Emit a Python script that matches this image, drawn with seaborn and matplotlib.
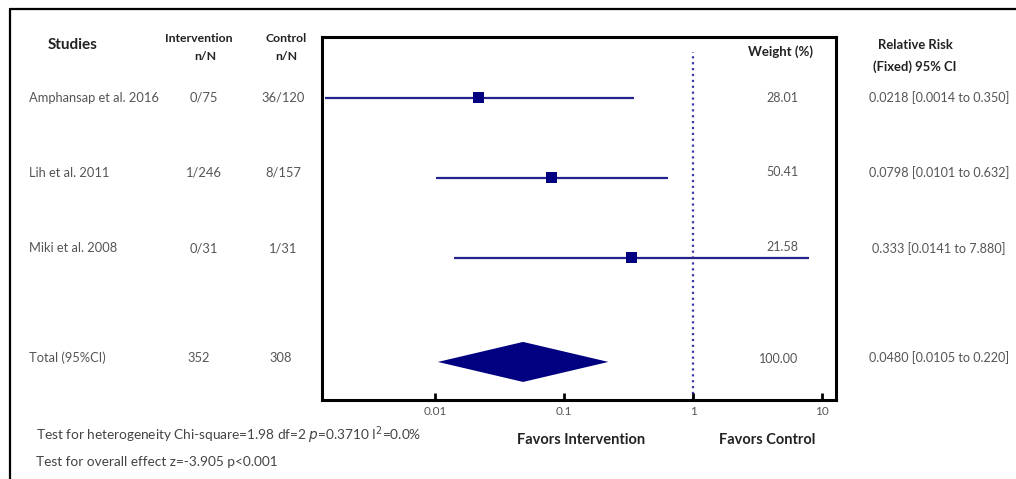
import matplotlib
matplotlib.use('Agg')
import matplotlib.pyplot as plt
import matplotlib.transforms as mtransforms
from matplotlib.lines import Line2D
import seaborn as sns
import numpy as np
import pandas as pd

# Data
studies = ["Amphansap et al. 2016", "Lih et al. 2011", "Miki et al. 2008"]
intervention = ["0/75", "1/246", "0/31"]
control = ["36/120", "8/157", "1/31"]
rr = [0.0218, 0.0798, 0.333]
ci_low = [0.0014, 0.0101, 0.0141]
ci_high = [0.350, 0.632, 7.880]
weights = ["28.01", "50.41", "21.58"]
rr_text = ["0.0218 [0.0014 to 0.350]", "0.0798 [0.0101 to 0.632]",
           "0.333 [0.0141 to 7.880]"]

total_label = "Total (95%CI)"
total_n = ["352", "308"]
total_rr = 0.0480
total_low = 0.0105
total_high = 0.220
total_weight = "100.00"
total_text = "0.0480 [0.0105 to 0.220]"

xticks = [0.01, 0.1, 1, 10]
xtick_labels = ["0.01", "0.1", "1", "10"]

# row positions (layout): marks and table text sit slightly apart
row_y = [0, 1, 2]
total_y = 3.3
text_y = [0, 0.94, 1.88, 3.25]
weight_y = [0, 0.925, 1.87, 3.26]

sns.set_style("ticks")
plt.rcParams['font.family'] = ['Lato', 'DejaVu Sans']

navy = '#000080'
line_col = '#24248c'
grey = '#555555'
dark = '#222222'

fig = plt.figure(figsize=(10.16, 4.79), dpi=100)
ax = fig.add_axes([0.317, 0.165, 0.506, 0.758])

df = pd.DataFrame({'study': studies, 'rr': rr, 'lo': ci_low, 'hi': ci_high, 'y': row_y})

# CI lines + point estimates
ax.hlines(df['y'], df['lo'], df['hi'], color=line_col, linewidth=1.6, zorder=2)
sns.scatterplot(data=df, x='rr', y='y', marker='s', s=65, color=navy,
                edgecolor='none', ax=ax, zorder=3, legend=False)

# pooled diamond
dh = 0.25
ax.fill([total_low, total_rr, total_high, total_rr],
        [total_y, total_y - dh, total_y, total_y + dh],
        color=navy, linewidth=0, zorder=3)

ax.set_xscale('log')
ax.set_xlim(0.00133, 12.8)
ax.set_ylim(3.775, -0.76)
ax.axvline(1, ymin=0, ymax=(3.775 + 0.575) / (3.775 + 0.76), color='#3a3aa8',
           linestyle=':', linewidth=1.6, zorder=1)

ax.set_xticks(xticks)
ax.set_xticklabels(xtick_labels)
ax.minorticks_off()
ax.set_yticks([])
ax.set_xlabel('')
ax.set_ylabel('')
ax.set_axisbelow(False)
ax.tick_params(axis='x', which='major', bottom=True, top=False, direction='in',
               length=5, width=2, color='black', labelcolor=grey,
               labelsize=8.5, pad=4)
for sp in ax.spines.values():
    sp.set_linewidth(2.2)
    sp.set_color('black')
    sp.set_visible(True)

trans = mtransforms.blended_transform_factory(fig.transFigure, ax.transData)

# Weight column inside the plot
ax.text(781 / 1016, -0.57, "Weight (%)", transform=trans,
        ha='center', va='center', fontsize=9.5, fontweight='bold', color=dark)
for y, w in zip(weight_y, weights + [total_weight]):
    ax.text(798 / 1016, y, w, transform=trans, ha='right', va='center',
            fontsize=9, color=grey)

# Left table
fig.text(73 / 1016, 1 - 45 / 479, "Studies", ha='center', va='center',
         fontsize=11, fontweight='bold', color=dark)
fig.text(199 / 1016, 1 - 39 / 479, "Intervention", ha='center', va='center',
         fontsize=8.8, fontweight='bold', color=dark)
fig.text(205 / 1016, 1 - 56 / 479, "n/N", ha='center', va='center',
         fontsize=8.8, fontweight='bold', color=dark)
fig.text(286 / 1016, 1 - 39 / 479, "Control", ha='center', va='center',
         fontsize=8.8, fontweight='bold', color=dark)
fig.text(286 / 1016, 1 - 56 / 479, "n/N", ha='center', va='center',
         fontsize=8.8, fontweight='bold', color=dark)

for y, name, a, b in zip(text_y, studies, intervention, control):
    fig.text(29 / 1016, y, name, transform=trans, ha='left', va='center',
             fontsize=9.3, color=grey)
    fig.text(204 / 1016, y, a, transform=trans, ha='center', va='center',
             fontsize=9.3, color=grey)
    fig.text(283 / 1016, y, b, transform=trans, ha='center', va='center',
             fontsize=9.3, color=grey)

fig.text(29 / 1016, text_y[3], total_label, transform=trans, ha='left',
         va='center', fontsize=9.3, color=grey)
fig.text(199 / 1016, text_y[3], total_n[0], transform=trans, ha='center',
         va='center', fontsize=9.3, color=grey)
fig.text(281 / 1016, text_y[3], total_n[1], transform=trans, ha='center',
         va='center', fontsize=9.3, color=grey)

# Right table
fig.text(915 / 1016, 1 - 45 / 479, "Relative Risk", ha='center', va='center',
         fontsize=9.4, fontweight='bold', color=dark)
fig.text(915 / 1016, 1 - 67 / 479, "(Fixed) 95% CI", ha='center', va='center',
         fontsize=9.4, fontweight='bold', color=dark)
for y, t in zip(text_y, rr_text + [total_text]):
    fig.text(939 / 1016, y, t, transform=trans, ha='center', va='center',
             fontsize=9.1, color=grey)

# Footer
fig.text(36 / 1016, 1 - 435 / 479,
         "Test for heterogeneity Chi-square=1.98 df=2 $\\it{p}$=0.3710 I$^{2}$=0.0%",
         ha='left', va='center', fontsize=9.8, color='#444444')
fig.text(36 / 1016, 1 - 462 / 479, "Test for overall effect z=-3.905 p<0.001",
         ha='left', va='center', fontsize=9.8, color='#444444')
fig.text(581 / 1016, 1 - 440 / 479, "Favors Intervention", ha='center',
         va='center', fontsize=10.5, fontweight='bold', color=dark)
fig.text(767 / 1016, 1 - 440 / 479, "Favors Control", ha='center',
         va='center', fontsize=10.5, fontweight='bold', color=dark)

# outer frame
fx0, fy0 = 10 / 1016, 1 - 9 / 479
fig.add_artist(Line2D([fx0, 1.0], [fy0, fy0], color='black', linewidth=1.6,
                      transform=fig.transFigure))
fig.add_artist(Line2D([fx0, fx0], [fy0, 0.0], color='black', linewidth=1.6,
                      transform=fig.transFigure))

fig.savefig('out.png', dpi=100)
